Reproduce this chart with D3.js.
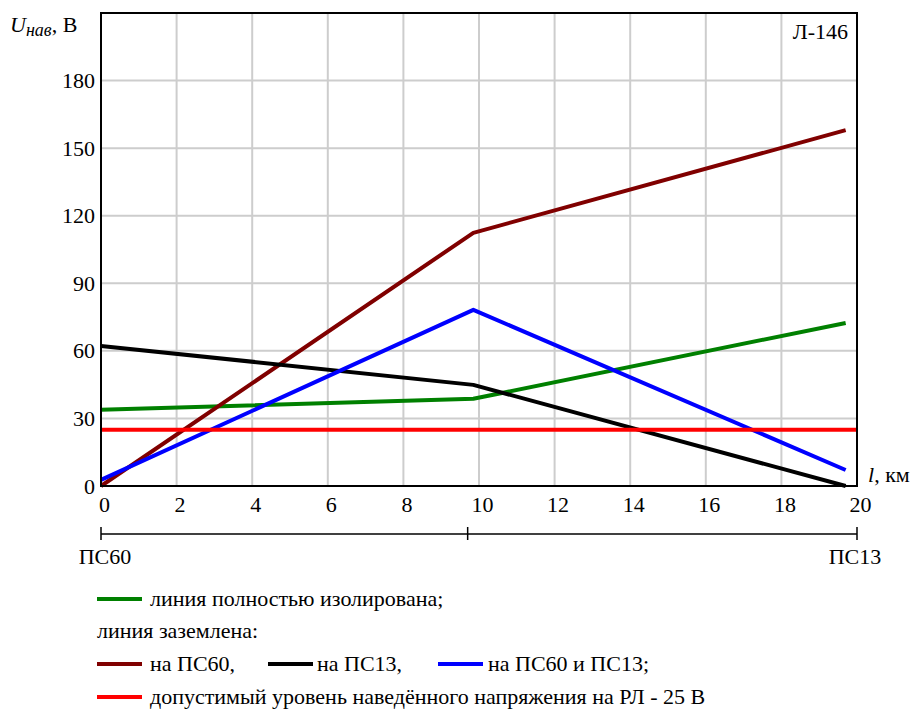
<!DOCTYPE html>
<html>
<head>
<meta charset="utf-8">
<script src="https://cdn.jsdelivr.net/npm/d3@7/dist/d3.min.js"></script>
<style>
  html, body { margin: 0; padding: 0; background: #fff; }
  svg { display: block; }
</style>
</head>
<body>
<svg id="chart" width="922" height="711"></svg>
<script>
// Distance along the line, km
const km = [0, 9.85, 19.7];
// Induced voltage, V
const isolated = [33.8, 38.7, 72.4];       // line fully insulated
const groundedPS60 = [0, 112.4, 158];      // grounded at ПС60
const groundedPS13 = [62.2, 44.9, 0];      // grounded at ПС13
const groundedBoth = [2.7, 78.2, 7.1];     // grounded at both ends
const permissibleLevel = 25;               // permissible induced voltage
const permissibleSpan = [0, 20];

const xTicks = [0, 2, 4, 6, 8, 10, 12, 14, 16, 18, 20];
const yTicks = [0, 30, 60, 90, 120, 150, 180];
const substations = [
  { name: "ПС60", km: 0 },
  { name: "", km: 9.7 },
  { name: "ПС13", km: 20 }
];

const series = [
  { values: isolated, color: "#008000" },
  { values: groundedPS60, color: "#800000" },
  { values: groundedPS13, color: "#000000" },
  { values: groundedBoth, color: "#0000ff" }
];

const FONT = '"Liberation Serif"';
const svg = d3.select("#chart");
const m = { left: 101, right: 857, top: 13, bottom: 486 };

const x = d3.scaleLinear().domain([0, 20]).range([m.left, m.right]);
const y = d3.scaleLinear().domain([0, 210]).range([m.bottom, m.top]);

// grid
const grid = svg.append("g").attr("stroke", "#cdcdcd").attr("stroke-width", 2);
xTicks.slice(1, -1).forEach(t => {
  grid.append("line").attr("x1", x(t)).attr("x2", x(t)).attr("y1", m.top).attr("y2", m.bottom);
});
yTicks.slice(1).forEach(t => {
  grid.append("line").attr("x1", m.left).attr("x2", m.right).attr("y1", y(t)).attr("y2", y(t));
});

// data lines
const line = d3.line().x((d, i) => x(km[i])).y(d => y(d));
series.forEach(s => {
  svg.append("path").datum(s.values)
    .attr("d", line)
    .attr("fill", "none")
    .attr("stroke", s.color)
    .attr("stroke-width", 4)
    .attr("stroke-linejoin", "round");
});
svg.append("line")
  .attr("x1", x(permissibleSpan[0])).attr("x2", x(permissibleSpan[1]))
  .attr("y1", y(permissibleLevel)).attr("y2", y(permissibleLevel))
  .attr("stroke", "#ff0000").attr("stroke-width", 4);

// frame
svg.append("rect")
  .attr("x", m.left).attr("y", m.top)
  .attr("width", m.right - m.left).attr("height", m.bottom - m.top)
  .attr("fill", "none").attr("stroke", "#000").attr("stroke-width", 2);

// tick labels
const yAxis = d3.axisLeft(y).tickValues(yTicks).tickSize(0).tickPadding(6);
const gy = svg.append("g").attr("transform", `translate(${m.left},0)`).call(yAxis);
gy.select(".domain").remove();
gy.selectAll("text").attr("font-size", 22).attr("fill", "#000");

const xAxis = d3.axisBottom(x).tickValues(xTicks).tickSize(0).tickPadding(10);
const gx = svg.append("g").attr("transform", `translate(0,${m.bottom})`).call(xAxis);
gx.select(".domain").remove();
gx.selectAll("text").attr("font-size", 22).attr("fill", "#000").attr("dx", 3);

// substation scale
const sy = 534;
svg.append("line").attr("x1", x(0)).attr("x2", x(20)).attr("y1", sy).attr("y2", sy)
  .attr("stroke", "#000").attr("stroke-width", 1.5);
substations.forEach(s => {
  svg.append("line").attr("x1", x(s.km)).attr("x2", x(s.km)).attr("y1", sy - 7).attr("y2", sy + 6)
    .attr("stroke", "#000").attr("stroke-width", 1.5);
  if (s.name) {
    svg.append("text").attr("x", x(s.km) + (s.km === 0 ? 4 : -2)).attr("y", 564)
      .attr("text-anchor", "middle").attr("font-size", 22).text(s.name);
  }
});

// axis titles
const ut = svg.append("text").attr("x", 10).attr("y", 32).attr("font-size", 22);
ut.append("tspan").attr("font-style", "italic").text("U");
ut.append("tspan").attr("font-style", "italic").attr("font-size", 18).attr("dy", 4).text("нав");
ut.append("tspan").attr("dy", -4).text(", В");

const lt = svg.append("text").attr("x", 868).attr("y", 482).attr("font-size", 22);
lt.append("tspan").attr("font-style", "italic").text("l");
lt.append("tspan").text(", км");

svg.append("text").attr("x", 848).attr("y", 39).attr("text-anchor", "end")
  .attr("font-size", 22).text("Л-146");

// legend
const lg = svg.append("g");
const rows = [
  { y: 606, items: [{ color: "#008000", sx: 97, tx: 150, label: "линия полностью изолирована;" }] },
  { y: 638, items: [{ color: null, sx: 97, tx: 97, label: "линия заземлена:" }] },
  { y: 671, items: [
    { color: "#800000", sx: 97, tx: 150, label: "на ПС60," },
    { color: "#000000", sx: 268, tx: 317, label: "на ПС13," },
    { color: "#0000ff", sx: 438, tx: 488, label: "на ПС60 и ПС13;" }
  ] },
  { y: 704, items: [{ color: "#ff0000", sx: 97, tx: 150, label: "допустимый уровень наведённого напряжения на РЛ - 25 В" }] }
];
rows.forEach(r => {
  r.items.forEach(it => {
    if (it.color) {
      lg.append("line").attr("x1", it.sx).attr("x2", it.sx + 45).attr("y1", r.y - 7).attr("y2", r.y - 7)
        .attr("stroke", it.color).attr("stroke-width", 4);
    }
    lg.append("text").attr("x", it.tx).attr("y", r.y).attr("font-size", 22).text(it.label);
  });
});

// serif face for every label
svg.selectAll("text").style("font-family", FONT);
</script>
</body>
</html>
